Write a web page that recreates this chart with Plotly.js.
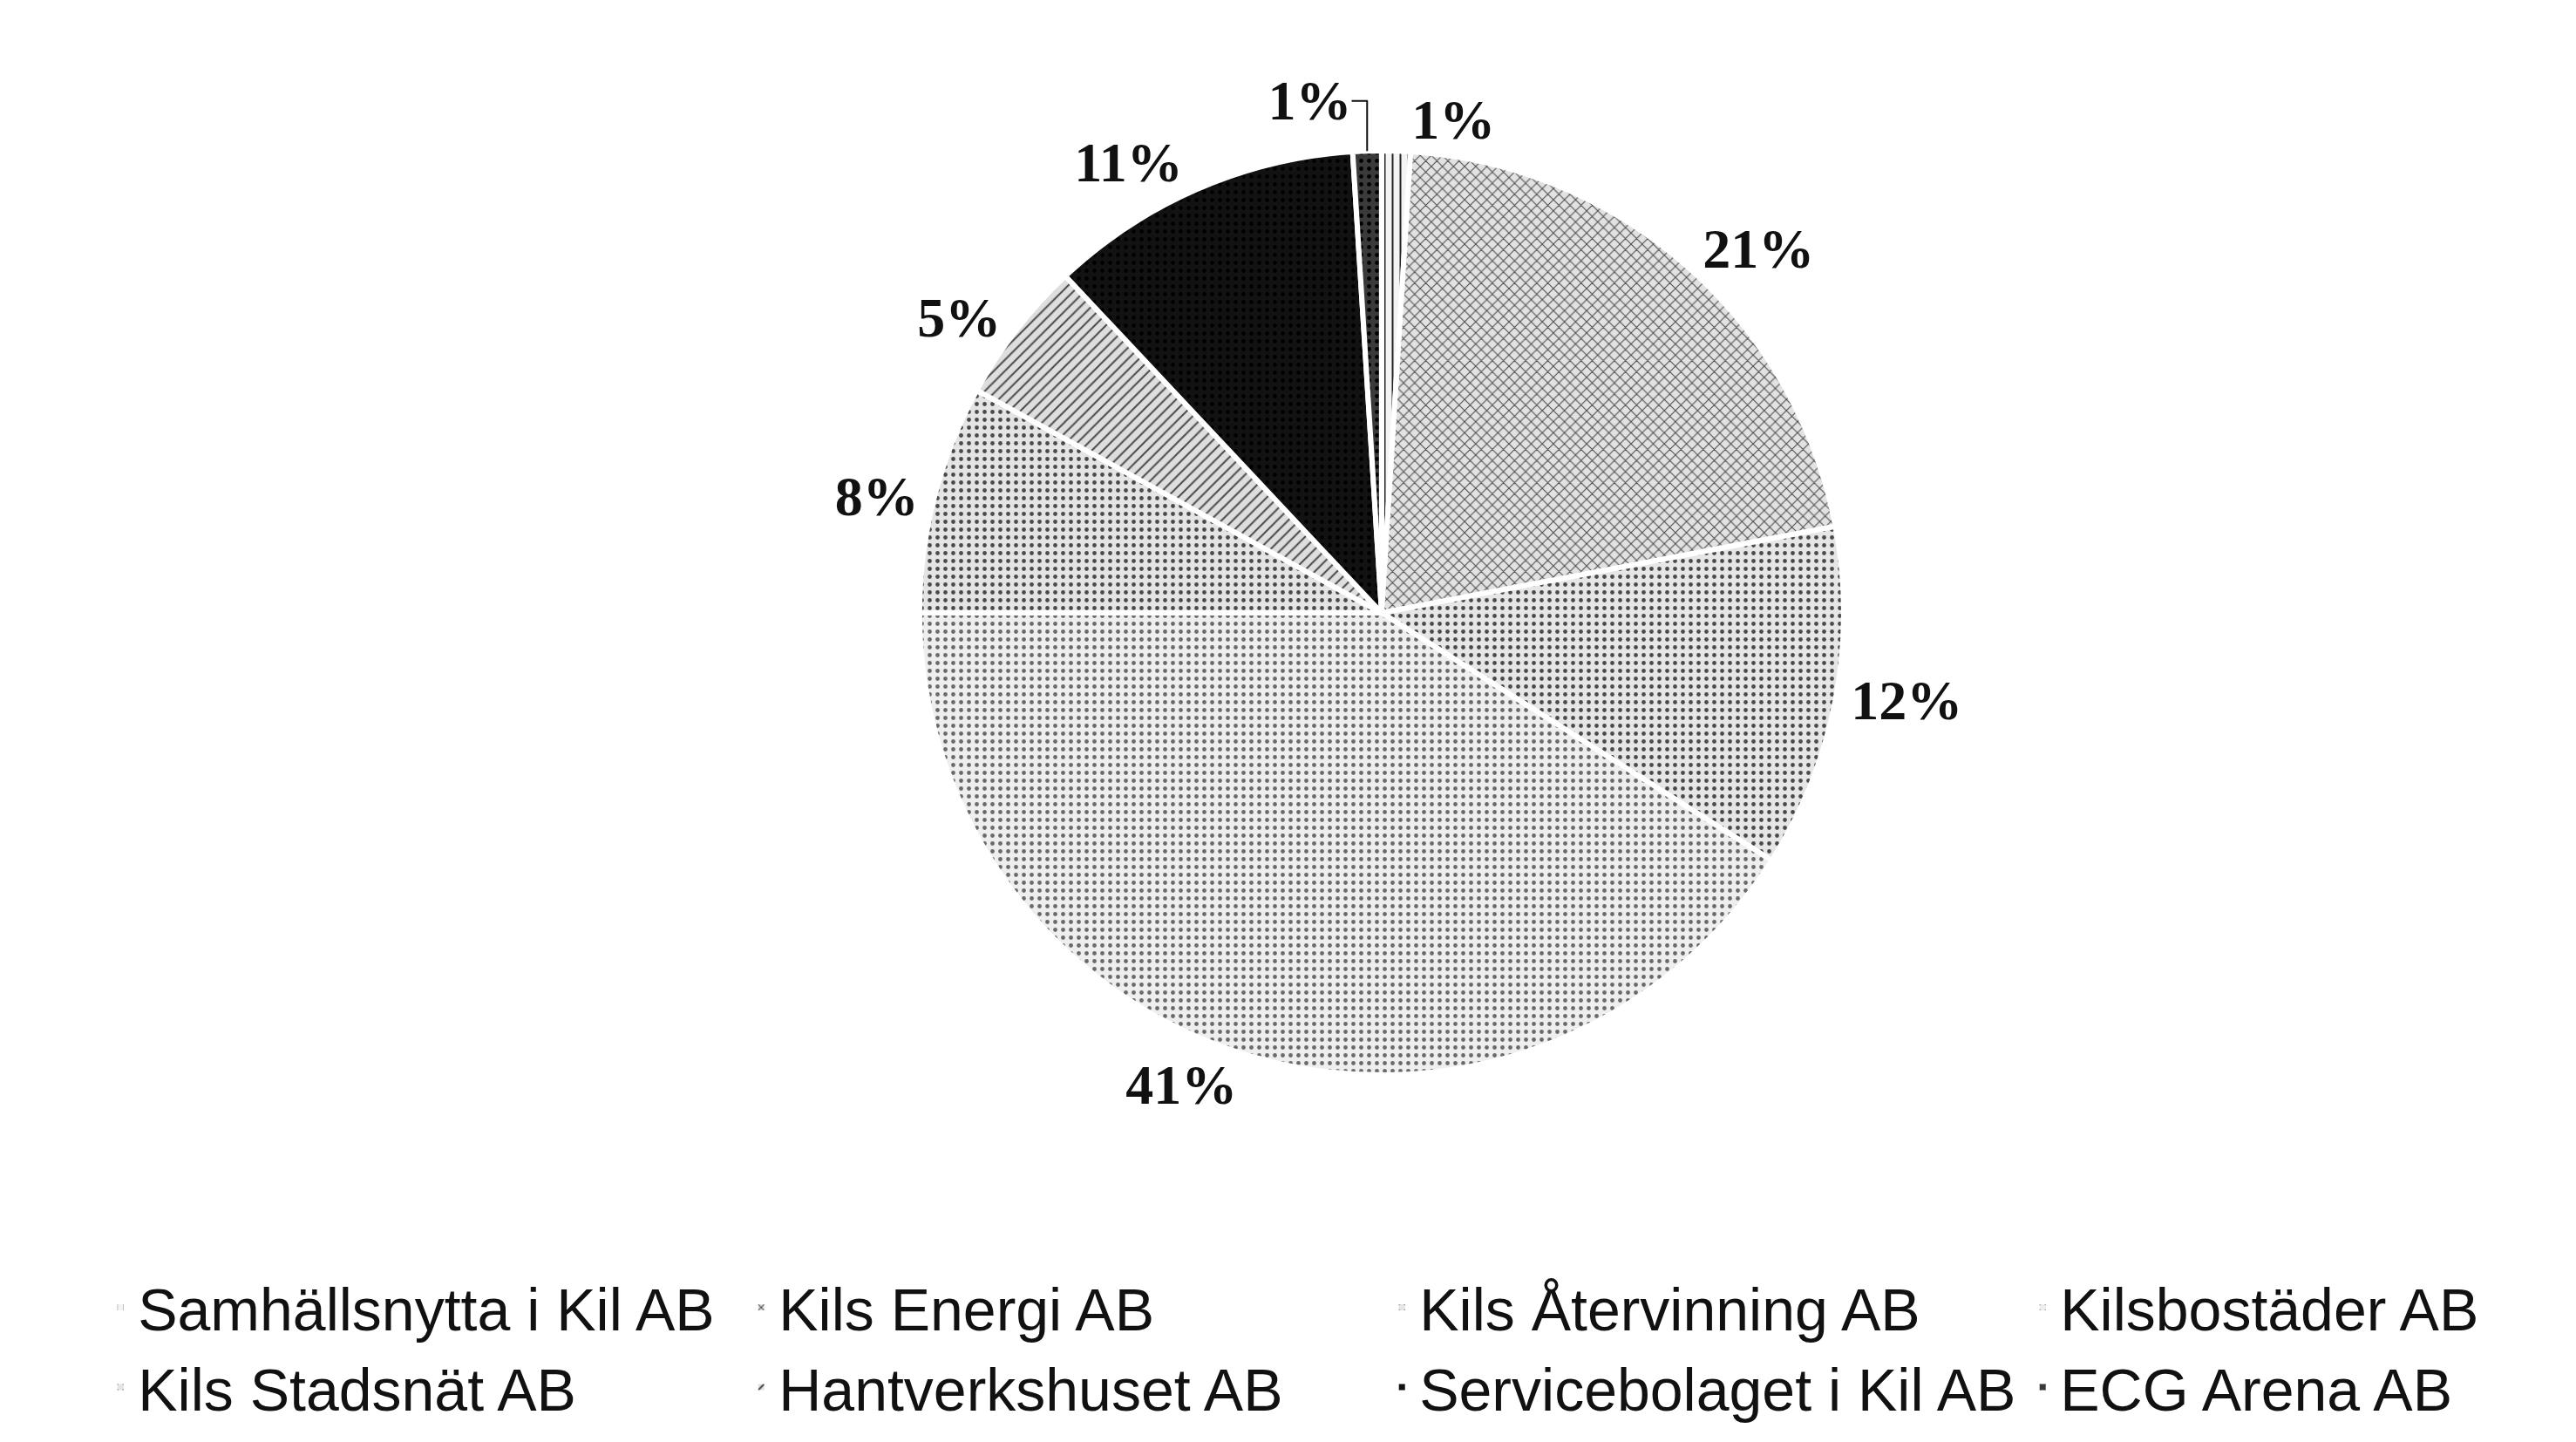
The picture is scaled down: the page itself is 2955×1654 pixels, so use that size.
<!DOCTYPE html>
<html>
<head>
<meta charset="utf-8">
<script src="https://cdn.plot.ly/plotly-3.0.1.min.js"></script>
<style>
  html, body { margin: 0; padding: 0; background: #ffffff; }
  #chart { width: 2955px; height: 1654px; }
</style>
</head>
<body>
<div id="chart"></div>
<script>
// ---- Data ----
const companies = [
  "Samhällsnytta i Kil AB",
  "Kils Energi AB",
  "Kils Återvinning AB",
  "Kilsbostäder AB",
  "Kils Stadsnät AB",
  "Hantverkshuset AB",
  "Servicebolaget i Kil AB",
  "ECG Arena AB"
];
const shares = [1, 21, 12, 41, 8, 5, 11, 1];

// ---- Styling ----
const sliceBg = ["#f4f4f4", "#e2e2e2", "#e6e6e6", "#eeeeee", "#e4e4e4", "#dedede", "#121212", "#3a3a3a"];
const sliceFg = ["#222222", "#4a4a4a", "#4a4a4a", "#6a6a6a", "#4a4a4a", "#4a4a4a", "#000000", "#000000"];
const sliceShape = ["|", "x", ".", ".", ".", "/", ".", "."];

const trace = {
  type: "pie",
  labels: companies,
  values: shares,
  sort: false,
  direction: "clockwise",
  rotation: 0,
  domain: { x: [0.3333, 0.7394], y: [0.2545, 0.8954] },
  marker: {
    colors: sliceBg,
    line: { color: "#ffffff", width: 6 },
    pattern: {
      shape: sliceShape,
      fgcolor: sliceFg,
      bgcolor: sliceBg,
      size: 9,
      solidity: 0.22,
      fillmode: "replace"
    }
  },
  texttemplate: "%{percent:.0%}",
  textposition: "outside",
  textfont: { family: "Liberation Serif, Times New Roman, serif", size: 64, color: "#111111", weight: 700 },
  hoverinfo: "label+percent",
  showlegend: true
};

const layout = {
  width: 2955,
  height: 1654,
  margin: { l: 0, r: 0, t: 0, b: 0, autoexpand: false },
  paper_bgcolor: "#ffffff",
  plot_bgcolor: "#ffffff",
  showlegend: true,
  legend: {
    orientation: "h",
    x: 0.04,
    xanchor: "left",
    y: 0.124,
    yanchor: "top",
    entrywidth: 690,
    entrywidthmode: "pixels",
    traceorder: "normal",
    font: { family: "Liberation Sans, Arial, sans-serif", size: 68, color: "#111111" },
    bgcolor: "rgba(0,0,0,0)"
  }
};

Plotly.newPlot("chart", [trace], layout, { displayModeBar: false, staticPlot: true });
</script>
</body>
</html>
